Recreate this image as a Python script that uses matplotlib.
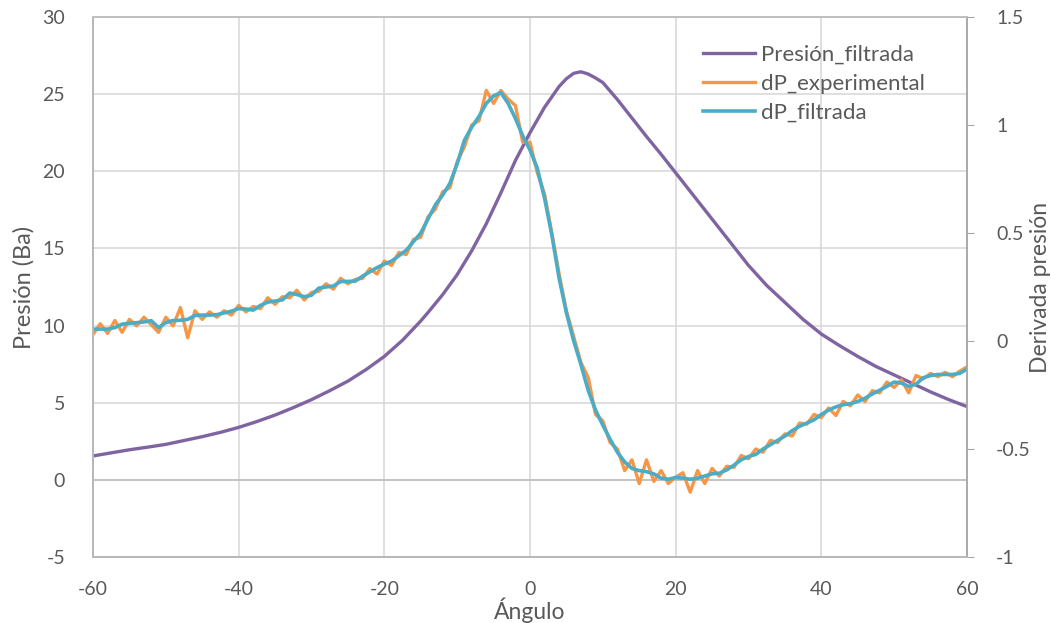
import matplotlib
matplotlib.use("Agg")
import matplotlib.pyplot as plt
import numpy as np

plt.rcParams['font.family'] = ['Lato', 'DejaVu Sans']
plt.rcParams['axes.unicode_minus'] = False

# presion filtrada (eje izquierdo)
ang_p = [-60, -57.5, -55, -52.5, -50, -47.5, -45, -42.5, -40, -37.5,
         -35, -32.5, -30, -27.5, -25, -22.5, -20, -17.5, -15,
         -14, -12, -10, -8, -6, -4, -2, 0, 2, 4, 5, 6, 7, 8, 9, 10, 12, 14, 16,
         18, 20, 22.5, 25, 27.5, 30, 32.5, 35, 37.5, 40, 42.5, 45, 47.5,
         50, 52.5, 55, 57.5, 60]
presion = [1.55, 1.75, 1.95, 2.12, 2.3, 2.55, 2.8, 3.08, 3.4, 3.78,
           4.2, 4.68, 5.2, 5.78, 6.4, 7.15, 8.0, 9.05, 10.3,
           10.85, 12.0, 13.3, 14.85, 16.6, 18.6, 20.7, 22.5, 24.15, 25.5,
           26.0, 26.35, 26.45, 26.3, 26.05, 25.75, 24.65, 23.45, 22.25,
           21.1, 19.9, 18.4, 16.9, 15.4, 13.9, 12.6, 11.5, 10.4, 9.45,
           8.7, 8.0, 7.35, 6.8, 6.25, 5.7, 5.2, 4.75]

# derivadas (eje derecho), cada grado
ang_d = np.arange(-60, 61, 1)
dp_exp = [0.03, 0.08, 0.035, 0.095, 0.04, 0.1, 0.07, 0.11, 0.075, 0.04,
          0.11, 0.07, 0.155, 0.015, 0.14, 0.1, 0.135, 0.11, 0.14, 0.12,
          0.165, 0.135, 0.16, 0.15, 0.2, 0.17, 0.205, 0.2, 0.235, 0.19,
          0.225, 0.23, 0.265, 0.24, 0.29, 0.265, 0.285, 0.29, 0.335, 0.31,
          0.37, 0.35, 0.41, 0.4, 0.47, 0.48, 0.575, 0.61, 0.69, 0.71,
          0.83, 0.9, 1.0, 1.02, 1.16, 1.1, 1.16, 1.12, 1.09, 0.92,
          0.92, 0.78, 0.68, 0.5, 0.31, 0.14, 0.02, -0.1, -0.17, -0.34,
          -0.37, -0.47, -0.5, -0.6, -0.55, -0.66, -0.55, -0.65, -0.6, -0.66,
          -0.63, -0.61, -0.7, -0.6, -0.66, -0.59, -0.625, -0.58, -0.585, -0.53,
          -0.545, -0.5, -0.515, -0.46, -0.47, -0.43, -0.44, -0.38, -0.385, -0.34,
          -0.355, -0.31, -0.345, -0.28, -0.3, -0.25, -0.28, -0.23, -0.24, -0.19,
          -0.215, -0.18, -0.24, -0.16, -0.175, -0.15, -0.165, -0.145, -0.165, -0.14,
          -0.12]
dp_filt = [0.055, 0.055, 0.055, 0.062, 0.078, 0.082, 0.085, 0.088, 0.094, 0.062,
           0.085, 0.095, 0.096, 0.1, 0.118, 0.12, 0.12, 0.122, 0.13, 0.138,
           0.15, 0.148, 0.143, 0.165, 0.18, 0.185, 0.19, 0.222, 0.215, 0.205,
           0.212, 0.245, 0.25, 0.255, 0.275, 0.276, 0.277, 0.3, 0.32, 0.34,
           0.356, 0.37, 0.395, 0.42, 0.46, 0.5, 0.565, 0.63, 0.675, 0.73,
           0.82, 0.93, 0.99, 1.04, 1.1, 1.135, 1.15, 1.1, 1.03, 0.95,
           0.884, 0.8, 0.66, 0.49, 0.29, 0.13, 0.0, -0.11, -0.23, -0.32,
           -0.39, -0.455, -0.515, -0.56, -0.59, -0.6, -0.605, -0.615, -0.635, -0.64,
           -0.632, -0.635, -0.64, -0.635, -0.625, -0.615, -0.612, -0.597, -0.575, -0.55,
           -0.535, -0.525, -0.5, -0.48, -0.46, -0.44, -0.415, -0.395, -0.38, -0.365,
           -0.34, -0.32, -0.305, -0.295, -0.29, -0.28, -0.265, -0.245, -0.228, -0.21,
           -0.19, -0.195, -0.21, -0.2, -0.17, -0.16, -0.155, -0.155, -0.155, -0.15,
           -0.13]

xticks = [-60, -40, -20, 0, 20, 40, 60]
yticks_izq = [-5, 0, 5, 10, 15, 20, 25, 30]
yticks_der = [-1, -0.5, 0, 0.5, 1, 1.5]
yticks_der_txt = ['-1', '-0.5', '0', '0.5', '1', '1.5']

gris = '#595959'
fig = plt.figure(figsize=(10.51, 6.23), dpi=100)
ax = fig.add_axes([93/1051, 1-557/623, 874/1051, 540/623])
ax2 = ax.twinx()

ax.plot(ang_p, presion, color='#8064A2', lw=2.4, label='Presión_filtrada', zorder=3)
ax2.plot(ang_d, dp_exp, color='#F79646', lw=2.4, label='dP_experimental')
ax2.plot(ang_d, dp_filt, color='#4BACC6', lw=2.6, label='dP_filtrada')

ax.set_xlim(-60, 60)
ax.set_ylim(-5, 30)
ax2.set_ylim(-1, 1.5)
ax.set_xticks(xticks)
ax.set_yticks(yticks_izq)
ax2.set_yticks(yticks_der)
ax2.set_yticklabels(yticks_der_txt)

ax.grid(True, color='#D9D9D9', lw=1.2)
ax.axhline(0, color='#BFBFBF', lw=1.2, zorder=1)
ax.set_axisbelow(True)

for a in (ax, ax2):
    for s in a.spines.values():
        s.set_color('#BFBFBF')
        s.set_linewidth(1.2)
ax.spines['left'].set_color('#868686')
ax.spines['bottom'].set_color('#868686')
ax2.spines['right'].set_color('#A6A6A6')

ax.tick_params(axis='both', length=0, labelsize=14, labelcolor=gris)
ax.tick_params(axis='y', pad=20)
ax.tick_params(axis='x', pad=17)
ax2.tick_params(axis='y', length=5, color='#A6A6A6', labelsize=14, labelcolor=gris, pad=16)

ax.set_xlabel('Ángulo', fontsize=16.5, color=gris, labelpad=0)
ax.set_ylabel('Presión (Ba)', fontsize=17, color=gris, labelpad=6)
ax2.set_ylabel('Derivada presión', fontsize=16.5, color=gris, labelpad=-1)

h1, l1 = ax.get_legend_handles_labels()
h2, l2 = ax2.get_legend_handles_labels()
leg = ax2.legend(h1 + h2, l1 + l2, loc='upper left', bbox_to_anchor=(0.698, 0.948),
                 frameon=False, fontsize=16, handlelength=2.35, handletextpad=0.25,
                 labelspacing=0.4, borderpad=0, borderaxespad=0)
for t in leg.get_texts():
    t.set_color(gris)

fig.savefig('out.png', dpi=100)
